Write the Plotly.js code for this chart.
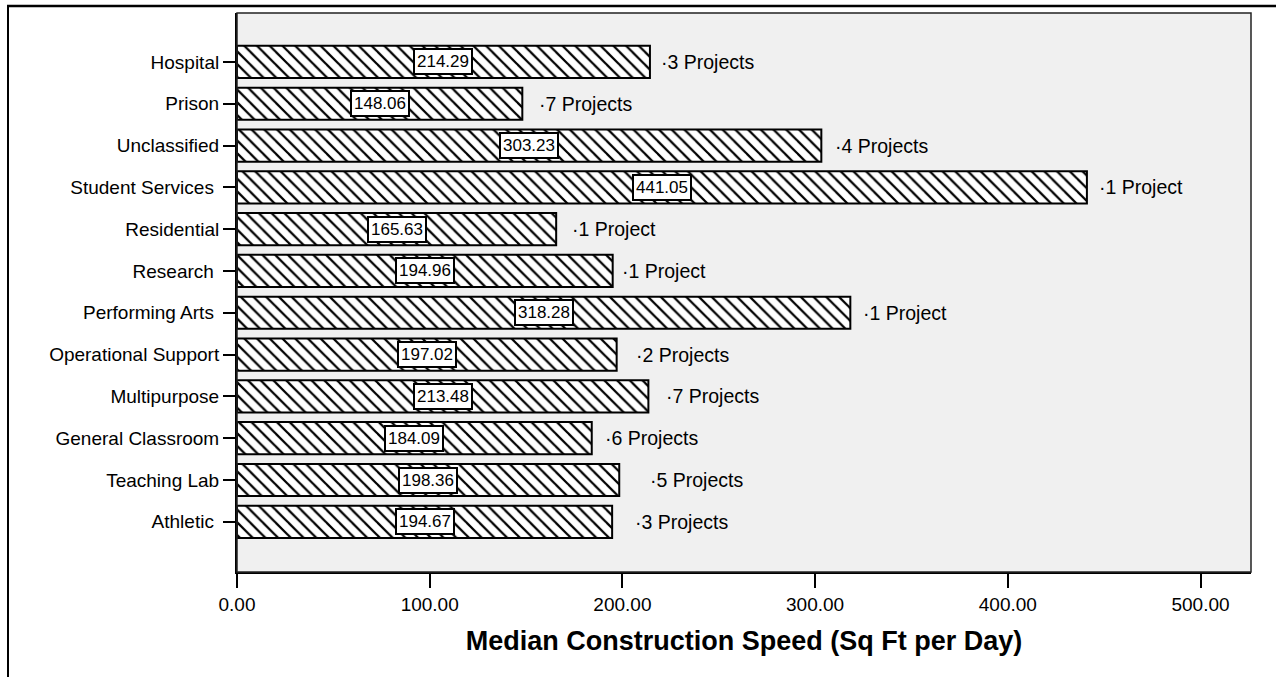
<!DOCTYPE html>
<html>
<head>
<meta charset="utf-8">
<script src="https://cdn.plot.ly/plotly-3.0.1.min.js"></script>
<style>
html,body{margin:0;padding:0;background:#fff;}
#chart{width:1276px;height:677px;}
</style>
</head>
<body>
<div id="chart"></div>
<script>
// Data (top to bottom as shown)
const categories = ["Hospital","Prison","Unclassified","Student Services","Residential","Research","Performing Arts","Operational Support","Multipurpose","General Classroom","Teaching Lab","Athletic"];
const medianSpeed = [214.29,148.06,303.23,441.05,165.63,194.96,318.28,197.02,213.48,184.09,198.36,194.67];
const projectCounts = [3,7,4,1,1,1,1,2,7,6,5,3];
const xTickValues = [0,100,200,300,400,500];
const axisTitle = "Median Construction Speed (Sq Ft per Day)";

// styling: trailing gap for some tick labels, pixel shift of count labels
const gapAfterLabel = ["Student Services","Research","Performing Arts","Athletic"];
const countLabelShift = [9,15,12,10,14,7,11,17,16,11,29,21];

const FONT = "Arial, 'Liberation Sans', sans-serif";

const trace = {
  type: "bar",
  orientation: "h",
  x: medianSpeed,
  y: categories,
  width: 0.77,
  marker: {
    color: "white",
    line: {color: "black", width: 2},
    pattern: {shape: "\\", size: 9, solidity: 0.25, fgcolor: "black", bgcolor: "white", fillmode: "replace"}
  },
  hoverinfo: "x+y"
};

const annotations = [];
categories.forEach((c, i) => {
  annotations.push({
    x: medianSpeed[i] / 2, y: c, xref: "x", yref: "y",
    text: medianSpeed[i].toFixed(2), showarrow: false,
    font: {family: FONT, size: 17, color: "black"},
    bgcolor: "white", bordercolor: "black", borderwidth: 2, borderpad: 2
  });
  annotations.push({
    x: medianSpeed[i], y: c, xref: "x", yref: "y",
    xanchor: "left", xshift: countLabelShift[i],
    text: "\u00b7" + projectCounts[i] + (projectCounts[i] === 1 ? " Project" : " Projects"),
    showarrow: false,
    font: {family: FONT, size: 19.5, color: "black"}
  });
});

const W = 1276, H = 677, L = 237, R = 25, T = 13, B = 105;
const pw = W - L - R, ph = H - T - B;
const px = v => (v - L) / pw;
const py = v => (H - B - v) / ph;

const shapes = [
  {type: "rect", xref: "paper", yref: "paper", x0: 0, x1: 1, y0: 0, y1: 1, line: {color: "#222", width: 1.5}, layer: "above"},
  {type: "line", xref: "paper", yref: "paper", x0: px(7), x1: px(1276), y0: py(6), y1: py(6), line: {color: "black", width: 2.5}},
  {type: "line", xref: "paper", yref: "paper", x0: px(8), x1: px(8), y0: py(6), y1: py(677), line: {color: "black", width: 2}}
];

const layout = {
  width: W, height: H,
  margin: {l: L, r: R, t: T, b: B},
  paper_bgcolor: "white",
  plot_bgcolor: "#f0f0f0",
  showlegend: false,
  font: {family: FONT, color: "black"},
  bargap: 0.23,
  xaxis: {
    range: [0, 526.2],
    tickvals: xTickValues,
    ticktext: xTickValues.map(v => v.toFixed(2)),
    ticks: "outside", ticklen: 14, tickwidth: 2, tickcolor: "black",
    tickfont: {family: FONT, size: 19, color: "black"},
    showgrid: false, zeroline: false,
    showline: true, linecolor: "black", linewidth: 2,
    title: {text: "<b>" + axisTitle + "</b>", font: {family: FONT, size: 27, color: "black"}, standoff: 17},
    fixedrange: true
  },
  yaxis: {
    type: "category",
    categoryorder: "array", categoryarray: categories,
    range: [12.2, -1.17],
    tickvals: categories,
    ticktext: categories.map(c => gapAfterLabel.includes(c) ? c + "\u00a0" : c),
    ticks: "outside", ticklen: 12, tickwidth: 2, tickcolor: "black",
    tickfont: {family: FONT, size: 19, color: "black"},
    showgrid: false, zeroline: false,
    showline: true, linecolor: "black", linewidth: 2,
    fixedrange: true
  },
  annotations: annotations,
  shapes: shapes
};

Plotly.newPlot("chart", [trace], layout, {displayModeBar: false, staticPlot: true});
</script>
</body>
</html>
